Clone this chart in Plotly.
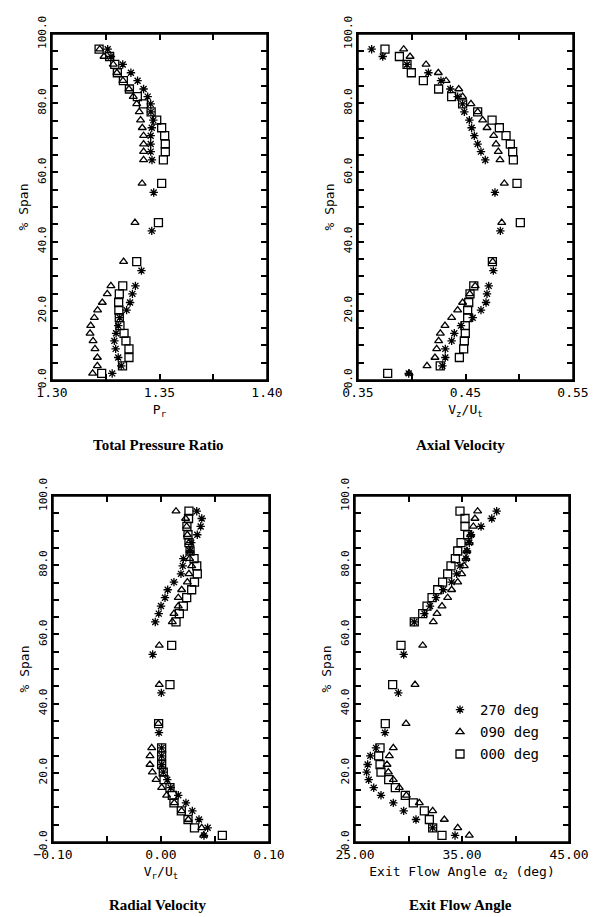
import plotly.graph_objects as go

# % span positions of the measurement points
span_270 = [1.9, 4.1, 6.5, 9.0, 11.3, 13.5, 15.7, 18.0, 20.2, 22.4, 24.9, 27.2, 31.6, 43.1, 54.2,
            63.6, 66.0, 68.2, 70.6, 72.9, 75.1, 77.5, 79.8, 81.9, 84.1, 86.5, 88.8, 91.2, 93.5, 95.6]
span_other = [1.9, 4.1, 6.5, 9.0, 11.3, 13.5, 15.7, 18.0, 20.2, 22.4, 24.9, 27.2, 34.2, 45.5, 56.8,
              63.6, 66.0, 68.2, 70.6, 72.9, 75.1, 77.5, 79.8, 81.9, 84.1, 86.5, 88.8, 91.2, 93.5, 95.6]

series_names = ["270 deg", "090 deg", "000 deg"]

# tick positions / labels (blank text = unlabelled tick)
span_ticks = [0, 5, 10, 15, 20, 25, 30, 35, 40, 45, 50, 55, 60, 65, 70, 75, 80, 85, 90, 95, 100]
span_ticktext = ["0.0", "", "", "", "20.0", "", "", "", "40.0", "", "", "", "60.0", "", "", "",
                 "80.0", "", "", "", "100.0"]
pr_ticks = [1.30, 1.325, 1.35, 1.375, 1.40]
pr_ticktext = ["1.30", "", "1.35", "", "1.40"]
vz_ticks = [0.35, 0.40, 0.45, 0.50, 0.55]
vz_ticktext = ["0.35", "", "0.45", "", "0.55"]
vr_ticks = [-0.10, -0.05, 0.0, 0.05, 0.10]
vr_ticktext = ["\u22120.10", "", "0.00", "", "0.10"]
ang_ticks = [25, 30, 35, 40, 45]
ang_ticktext = ["25.00", "", "35.00", "", "45.00"]

# Total pressure ratio Pr
pr_270 = [1.3280, 1.3322, 1.3308, 1.3296, 1.3290, 1.3298, 1.3308, 1.3315, 1.3347, 1.3363, 1.3374, 1.3388,
          1.3416, 1.3464, 1.3473, 1.3465, 1.3459, 1.3459, 1.3459, 1.3464, 1.3471, 1.3460, 1.3459, 1.3445,
          1.3426, 1.3398, 1.3367, 1.3329, 1.3274, 1.3259]
pr_090 = [1.3189, 1.3211, 1.3211, 1.3200, 1.3191, 1.3177, 1.3180, 1.3197, 1.3212, 1.3234, 1.3257, 1.3274,
          1.3333, 1.3386, 1.3419, 1.3426, 1.3426, 1.3426, 1.3426, 1.3420, 1.3412, 1.3406, 1.3394, 1.3378,
          1.3358, 1.3330, 1.3302, 1.3285, 1.3242, 1.3222]
pr_000 = [1.3231, 1.3328, 1.3358, 1.3358, 1.3344, 1.3335, 1.3316, 1.3313, 1.3311, 1.3310, 1.3313, 1.3329,
          1.3394, 1.3495, 1.3510, 1.3518, 1.3527, 1.3527, 1.3524, 1.3510, 1.3487, 1.3461, 1.3425, 1.3397,
          1.3360, 1.3332, 1.3304, 1.3292, 1.3268, 1.3219]

# Axial velocity Vz/Ut
vz_270 = [0.3972, 0.4285, 0.4312, 0.4312, 0.4371, 0.4396, 0.4458, 0.4567, 0.4644, 0.4691, 0.4700, 0.4716,
          0.4759, 0.4824, 0.4774, 0.4684, 0.4644, 0.4613, 0.4582, 0.4557, 0.4536, 0.4489, 0.4473, 0.4427,
          0.4359, 0.4272, 0.4155, 0.3956, 0.3730, 0.3627]
vz_090 = [0.3975, 0.4142, 0.4216, 0.4232, 0.4250, 0.4266, 0.4309, 0.4371, 0.4427, 0.4473, 0.4540, 0.4590,
          0.4753, 0.4837, 0.4861, 0.4821, 0.4805, 0.4784, 0.4762, 0.4700, 0.4660, 0.4613, 0.4551, 0.4473,
          0.4437, 0.4319, 0.4247, 0.4133, 0.3984, 0.3925]
vz_000 = [0.3776, 0.4265, 0.4443, 0.4483, 0.4489, 0.4498, 0.4498, 0.4520, 0.4520, 0.4530, 0.4542, 0.4577,
          0.4750, 0.5010, 0.4979, 0.4945, 0.4939, 0.4917, 0.4877, 0.4815, 0.4747, 0.4613, 0.4473, 0.4371,
          0.4250, 0.4108, 0.3996, 0.3956, 0.3885, 0.3751]

# Radial velocity Vr/Ut
vr_270 = [0.0398, 0.0432, 0.0352, 0.0290, 0.0231, 0.0160, 0.0090, 0.0058, 0.0021, 0.0006, 0.0006, 0.0006,
          -0.0019, 0.0003, -0.0077, -0.0053, -0.0021, 0.0000, 0.0037, 0.0062, 0.0120, 0.0185, 0.0201, 0.0207,
          0.0269, 0.0280, 0.0336, 0.0367, 0.0377, 0.0331]
vr_090 = [0.0395, 0.0377, 0.0253, 0.0191, 0.0123, 0.0052, 0.0006, -0.0046, -0.0080, -0.0102, -0.0102, -0.0086,
          -0.0025, -0.0016, -0.0016, 0.0105, 0.0120, 0.0160, 0.0160, 0.0191, 0.0244, 0.0259, 0.0284, 0.0265,
          0.0269, 0.0259, 0.0244, 0.0238, 0.0228, 0.0139]
vr_000 = [0.0568, 0.0310, 0.0250, 0.0188, 0.0120, 0.0105, 0.0083, 0.0028, 0.0021, 0.0006, 0.0006, 0.0006,
          -0.0022, 0.0083, 0.0099, 0.0139, 0.0170, 0.0207, 0.0238, 0.0284, 0.0310, 0.0336, 0.0331, 0.0306,
          0.0269, 0.0259, 0.0250, 0.0240, 0.0255, 0.0259]

# Exit flow angle alpha2 (deg)
ang_270 = [34.35, 32.26, 30.70, 29.55, 28.58, 27.43, 26.75, 26.28, 26.09, 26.18, 26.43, 26.96,
           27.80, 29.05, 29.55, 30.54, 31.48, 32.01, 32.57, 33.25, 34.03, 34.50, 34.81, 35.37,
           35.47, 35.68, 35.84, 36.78, 37.78, 38.24]
ang_090 = [35.68, 34.60, 33.35, 32.26, 31.01, 29.80, 29.14, 28.58, 28.12, 27.99, 28.21, 28.58,
           29.77, 30.61, 31.33, 32.32, 32.66, 33.13, 33.66, 34.03, 34.60, 34.97, 35.21, 35.37,
           35.45, 35.68, 35.80, 36.06, 36.21, 36.46]
ang_000 = [33.13, 32.26, 31.95, 31.48, 30.45, 29.70, 28.77, 28.15, 27.43, 27.34, 27.21, 27.34,
           27.83, 28.52, 29.30, 30.54, 31.33, 31.73, 32.20, 32.73, 33.19, 33.66, 33.97, 34.38,
           34.60, 34.91, 35.53, 35.28, 35.28, 34.81]

MONO = "DejaVu Sans Mono"
symbols = ["asterisk-open", "triangle-up-open", "square-open"]
sizes = [7, 7, 8]

# the page body has an 8px margin, so the figure is a bit smaller than the window
OFF = 8
W, H = 613 - OFF, 917 - OFF


def fx(px):
    return (px - OFF) / W


def fy(py):
    return 1 - (py - OFF) / H


def panel_axes(fig, n, xdom, ydom, xrange, xticks, xtext, xtitle):
    ax = dict(showline=True, linecolor="black", linewidth=1.5, mirror="ticks",
              ticks="inside", ticklen=6, tickwidth=1.5, tickcolor="black",
              showgrid=False, zeroline=False, automargin=False, tickmode="array",
              tickfont=dict(family=MONO, size=13, color="black"))
    key = "" if n == 1 else str(n)
    xa = dict(ax, domain=xdom, range=xrange, tickvals=xticks, ticktext=xtext,
              title=dict(text=xtitle, font=dict(family=MONO, size=13, color="black"), standoff=6),
              anchor="y" + key)
    ya = dict(ax, domain=ydom, range=[0, 100], tickvals=span_ticks, ticktext=span_ticktext,
              tickangle=-90, tickfont=dict(family=MONO, size=11, color="black"),
              title=dict(text="% Span", font=dict(family=MONO, size=13, color="black"), standoff=4),
              anchor="x" + key)
    fig.update_layout({"xaxis" + key: xa, "yaxis" + key: ya})
    # panel frame
    fig.add_shape(type="rect", xref="x" + key + " domain", yref="y" + key + " domain",
                  x0=0, x1=1, y0=0, y1=1, line=dict(color="black", width=1.5))


def add_series(fig, n, values):
    key = "" if n == 1 else str(n)
    spans = [span_270, span_other, span_other]
    for i, vals in enumerate(values):
        fig.add_trace(go.Scatter(
            x=vals, y=spans[i], mode="markers", name=series_names[i],
            xaxis="x" + key, yaxis="y" + key, showlegend=(n == 4), legendgroup=series_names[i],
            marker=dict(symbol=symbols[i], size=sizes[i], color="black",
                        line=dict(color="black", width=1.3))))


fig = go.Figure()

top = [fy(380), fy(34)]
bot = [fy(842), fy(496)]
panel_axes(fig, 1, [fx(52), fx(267)], top, [1.30, 1.40], pr_ticks, pr_ticktext, "P<sub>r</sub>")
panel_axes(fig, 2, [fx(358), fx(573)], top, [0.35, 0.55], vz_ticks, vz_ticktext,
           "V<sub>z</sub>/U<sub>t</sub>")
panel_axes(fig, 3, [fx(53), fx(269)], bot, [-0.10, 0.10], vr_ticks, vr_ticktext,
           "V<sub>r</sub>/U<sub>t</sub>")
panel_axes(fig, 4, [fx(355), fx(569)], bot, [25, 45], ang_ticks, ang_ticktext,
           "Exit Flow Angle α<sub>2</sub> (deg)")

add_series(fig, 1, [pr_270, pr_090, pr_000])
add_series(fig, 2, [vz_270, vz_090, vz_000])
add_series(fig, 3, [vr_270, vr_090, vr_000])
add_series(fig, 4, [ang_270, ang_090, ang_000])

titles = ["Total Pressure Ratio", "Axial Velocity", "Radial Velocity", "Exit Flow Angle"]
tx = [fx(158), fx(460), fx(158), fx(460)]
ty = [fy(445), fy(445), fy(905), fy(905)]
for t, x, y in zip(titles, tx, ty):
    fig.add_annotation(text="<b>" + t + "</b>", x=x, y=y, xref="paper", yref="paper",
                       showarrow=False, xanchor="center", yanchor="middle",
                       font=dict(family="Liberation Serif", size=15, color="black"))

fig.update_layout(
    width=W, height=H, margin=dict(l=0, r=0, t=0, b=0),
    paper_bgcolor="white", plot_bgcolor="white",
    legend=dict(x=fx(440), y=fy(694), xanchor="left", yanchor="top",
                bgcolor="rgba(0,0,0,0)", tracegroupgap=1,
                font=dict(family=MONO, size=14, color="black")),
)

fig.write_html("out.html")
